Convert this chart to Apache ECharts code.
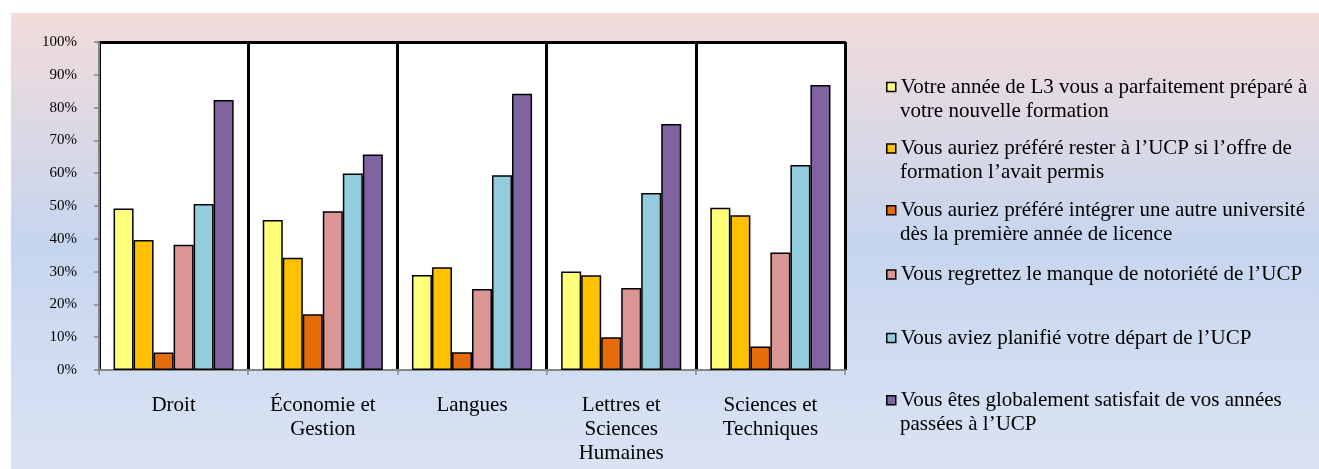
<!DOCTYPE html>
<html>
<head>
<meta charset="utf-8">
<script src="https://cdn.jsdelivr.net/npm/echarts@6/dist/echarts.min.js"></script>
<style>
html,body{margin:0;padding:0;background:#fff;}
#chart{width:1319px;height:469px;}
</style>
</head>
<body>
<div id="chart"></div>
<script>
var categories = ['Droit', 'Économie et\nGestion', 'Langues', 'Lettres et\nSciences\nHumaines', 'Sciences et\nTechniques'];
var seriesNames = [
  'Votre année de L3 vous a parfaitement préparé à votre nouvelle formation',
  'Vous auriez préféré rester à l’UCP si l’offre de formation l’avait permis',
  'Vous auriez préféré intégrer une autre université dès la première année de licence',
  'Vous regrettez le manque de notoriété de l’UCP',
  'Vous aviez planifié votre départ de l’UCP',
  'Vous êtes globalement satisfait de vos années passées à l’UCP'
];
var legendLine1 = [
  'Votre année de L3 vous a parfaitement préparé à',
  'Vous auriez préféré rester à l’UCP si l’offre de',
  'Vous auriez préféré intégrer une autre université',
  'Vous regrettez le manque de notoriété de l’UCP',
  'Vous aviez planifié votre départ de l’UCP',
  'Vous êtes globalement satisfait de vos années'
];
var legendLine2 = [
  'votre nouvelle formation',
  'formation l’avait permis',
  'dès la première année de licence',
  '',
  '',
  'passées à l’UCP'
];
var preparedL3   = [0.492, 0.457, 0.290, 0.300, 0.495];
var resterUCP    = [0.396, 0.342, 0.313, 0.289, 0.472];
var autreUniv    = [0.053, 0.170, 0.054, 0.100, 0.072];
var notoriete    = [0.382, 0.484, 0.247, 0.250, 0.358];
var planifie     = [0.506, 0.599, 0.594, 0.540, 0.625];
var satisfait    = [0.823, 0.657, 0.842, 0.750, 0.869];
var yTicks = [0, 0.1, 0.2, 0.3, 0.4, 0.5, 0.6, 0.7, 0.8, 0.9, 1.0];

var seriesValues = [preparedL3, resterUCP, autreUniv, notoriete, planifie, satisfait];
var colors = ['#ffff79', '#ffc000', '#e46c0a', '#d99694', '#93cddd', '#8064a2'];
var legendCenters = [87, 148.6, 210.3, 274.5, 338, 400.3];
var FONT = '"Liberation Serif", "Times New Roman", serif';

var chart = echarts.init(document.getElementById('chart'));

var series = seriesValues.map(function (vals, i) {
  return {
    name: seriesNames[i],
    type: 'bar',
    xAxisIndex: 0,
    yAxisIndex: 0,
    data: vals,
    barGap: '0%',
    barCategoryGap: '19.5%',
    itemStyle: { color: colors[i], borderColor: '#000', borderWidth: 1.5 },
    emphasis: { disabled: true }
  };
});

var legends = seriesNames.map(function (n, i) {
  return {
    show: true,
    orient: 'vertical',
    left: 886,
    top: legendCenters[i] - 12,
    padding: 0,
    itemWidth: 9,
    itemHeight: 9,
    itemGap: 0,
    selectedMode: false,
    data: [{ name: n, icon: 'rect', itemStyle: { color: colors[i], borderColor: '#000', borderWidth: 1.5 } }],
    formatter: function () { return legendLine1[i]; },
    textStyle: { fontFamily: FONT, fontSize: 21, lineHeight: 24, color: '#000' }
  };
});

var graphics = [{
  type: 'rect',
  z: -100,
  silent: true,
  shape: { x: 11, y: 13, width: 1308, height: 456 },
  style: {
    fill: new echarts.graphic.LinearGradient(0, 0, 0, 1, [
      { offset: 0, color: '#f2dcdb' },
      { offset: 0.5, color: '#c6d5ee' },
      { offset: 1, color: '#dae3f4' }
    ])
  }
}];
legendLine2.forEach(function (t, i) {
  if (!t) return;
  graphics.push({
    type: 'text',
    silent: true,
    x: 900,
    y: legendCenters[i] + 24,
    style: { text: t, font: '21px ' + FONT, fill: '#000', verticalAlign: 'middle', align: 'left' }
  });
});

chart.setOption({
  animation: false,
  backgroundColor: 'transparent',
  graphic: graphics,
  legend: legends,
  grid: {
    left: 99, top: 42, right: 474, bottom: 99,
    show: true, backgroundColor: '#ffffff', borderWidth: 0
  },
  xAxis: [{
    type: 'category',
    data: categories,
    boundaryGap: true,
    position: 'bottom',
    axisLine: { show: true, lineStyle: { color: '#868686', width: 2 } },
    axisTick: { show: true, inside: false, length: 5, interval: 0, lineStyle: { color: '#868686', width: 1.5 } },
    axisLabel: { interval: 0, margin: 23, fontFamily: FONT, fontSize: 21, lineHeight: 24, color: '#000' },
    splitLine: { show: true, interval: 0, lineStyle: { color: '#000', width: 3 } }
  }, {
    type: 'category',
    data: categories,
    position: 'top',
    axisLine: { show: true, lineStyle: { color: '#000', width: 3 } },
    axisTick: { show: false },
    axisLabel: { show: false },
    splitLine: { show: false }
  }],
  yAxis: [{
    type: 'value',
    min: 0,
    max: 1,
    interval: 0.1,
    z: 5,
    axisLine: { show: true, lineStyle: { color: '#868686', width: 2 } },
    axisTick: { show: true, inside: false, length: 5, lineStyle: { color: '#868686', width: 1.5 } },
    axisLabel: {
      margin: 22, fontFamily: FONT, fontSize: 15, color: '#000',
      formatter: function (v) {
        for (var k = 0; k < yTicks.length; k++) {
          if (Math.abs(yTicks[k] - v) < 1e-6) return Math.round(yTicks[k] * 100) + '%';
        }
        return '';
      }
    },
    splitLine: { show: false }
  }],
  series: series
});
</script>
</body>
</html>
